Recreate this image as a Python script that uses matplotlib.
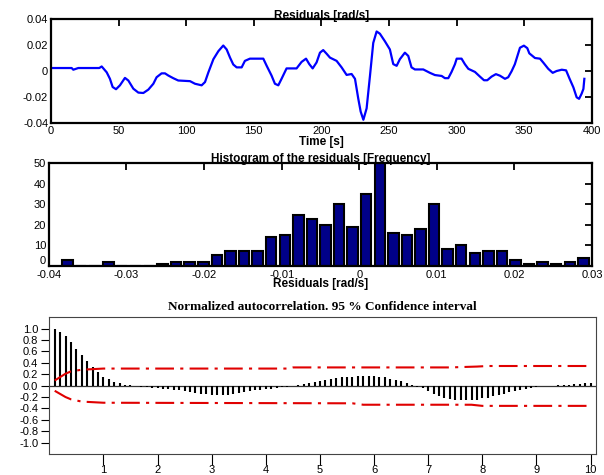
import numpy as np
import matplotlib
matplotlib.use('Agg')
import matplotlib.pyplot as plt

plt.rcParams['font.family'] = ['Liberation Sans', 'DejaVu Sans']
plt.rcParams['axes.unicode_minus'] = False

# residuals over time
time_s = [0, 15.3, 16.5, 20.2, 35.7, 37.5, 41.2, 43.6, 45.6, 48.1, 51, 54.7, 57.2, 60.9,
          64.6, 68.3, 72, 75.7, 78.1, 81.8, 84.3, 86.8, 90.4, 94.1, 102.8, 106.5, 111.4,
          113.9, 116.4, 120.1, 123.8, 127.4, 129.9, 132.4, 134.8, 137.3, 141, 143.4, 147.1,
          157, 159.5, 163.1, 165.6, 168.1, 170.5, 174.2, 181.6, 185.3, 188.6, 191, 193.5,
          196.4, 198.9, 201.3, 203.8, 206.3, 211.2, 214.9, 218.6, 222.3, 224.8, 227.2, 229,
          231, 233.4, 235.9, 238.3, 240.8, 243.2, 246.9, 250.6, 253.1, 255.6, 258, 261.7,
          264.2, 266.6, 269.1, 275.3, 280.2, 283.9, 288.9, 291.3, 293.8, 296.2, 298.7, 300,
          303.6, 306.1, 308.6, 313.5, 317.2, 320.2, 322.6, 325.8, 329, 332, 335.7, 338.1,
          340.6, 343, 346.8, 349.7, 352.2, 353.7, 357.9, 361.6, 364.1, 367.7, 371, 373.9,
          377.7, 380.9, 383.3, 386.3, 388.7, 390.5, 392.4, 393.7, 394.4]
residual = [0.0023, 0.0023, 0.001, 0.0023, 0.0023, 0.0035, -0.001, -0.006, -0.0123, -0.014,
            -0.011, -0.0053, -0.0073, -0.0136, -0.0166, -0.0169, -0.0143, -0.0098, -0.0048,
            -0.0018, -0.0018, -0.0035, -0.0055, -0.0073, -0.0078, -0.0098, -0.011, -0.0085,
            -0.001, 0.0091, 0.0153, 0.0196, 0.0166, 0.0103, 0.005, 0.0028, 0.0028, 0.0078,
            0.0095, 0.0095, 0.004, -0.0035, -0.0098, -0.011, -0.006, 0.002, 0.002, 0.007,
            0.0095, 0.0053, 0.002, 0.0066, 0.0141, 0.0161, 0.0133, 0.0103, 0.0078, 0.0028,
            -0.003, -0.0023, -0.006, -0.0211, -0.0312, -0.0375, -0.0287, -0.0035, 0.0216,
            0.0304, 0.0287, 0.0229, 0.0166, 0.0053, 0.004, 0.0091, 0.0141, 0.0116, 0.0028,
            0.0012, 0.0012, -0.0014, -0.0031, -0.0038, -0.0055, -0.0055, -0.0007, 0.0052,
            0.0095, 0.0095, 0.0052, 0.0017, -0.0007, -0.0043, -0.0071, -0.0071, -0.0043,
            -0.0024, -0.0036, -0.006, -0.0048, -0.0002, 0.0052, 0.0179, 0.0195, 0.0176,
            0.0136, 0.01, 0.0095, 0.0064, 0.0017, -0.0014, 0.0, 0.001, 0.0005, -0.0055,
            -0.0126, -0.0202, -0.0214, -0.0174, -0.0138, -0.006]

# histogram of residuals
bin_centers = [-0.0376, -0.03585, -0.0341, -0.03235, -0.0306, -0.02885, -0.0271, -0.02535,
               -0.0236, -0.02185, -0.0201, -0.01835, -0.0166, -0.01485, -0.0131, -0.01135,
               -0.0096, -0.00785, -0.0061, -0.00435, -0.0026, -0.00085, 0.0009, 0.00265,
               0.0044, 0.00615, 0.0079, 0.00965, 0.0114, 0.01315, 0.0149, 0.01665, 0.0184,
               0.02015, 0.0219, 0.02365, 0.0254, 0.02715, 0.0289]
counts = [3, 0, 0, 2, 0, 0, 0, 1, 2, 2, 2, 5, 7, 7, 7, 14, 15, 25, 23, 20, 30, 19, 35, 50,
          16, 15, 18, 30, 8, 10, 6, 7, 7, 3, 1, 2, 1, 2, 4]

# normalized autocorrelation, lags 0.1 .. 10.0
lags = np.round(np.arange(1, 101) * 0.1, 1)
acf = [1.0, 0.94, 0.87, 0.77, 0.65, 0.53, 0.43, 0.33, 0.24, 0.16,
       0.11, 0.07, 0.04, 0.02, 0.005, 0.0, -0.02, -0.03, -0.04, -0.045,
       -0.05, -0.06, -0.07, -0.085, -0.10, -0.115, -0.13, -0.14, -0.155, -0.165,
       -0.17, -0.17, -0.16, -0.15, -0.13, -0.11, -0.09, -0.08, -0.07, -0.065,
       -0.05, -0.04, -0.03, -0.015, 0.0, 0.015, 0.03, 0.045, 0.065, 0.08,
       0.10, 0.115, 0.13, 0.145, 0.15, 0.16, 0.17, 0.17, 0.17, 0.165,
       0.155, 0.145, 0.125, 0.105, 0.085, 0.045, 0.005, -0.02, -0.04, -0.10,
       -0.145, -0.185, -0.215, -0.23, -0.245, -0.255, -0.26, -0.255, -0.245, -0.225,
       -0.21, -0.185, -0.16, -0.14, -0.115, -0.09, -0.07, -0.05, -0.035, -0.02,
       -0.01, 0.0, 0.0, 0.01, 0.015, 0.02, 0.03, 0.035, 0.045, 0.045]

conf_lag = [0.1, 0.2, 0.3, 0.4, 0.6, 0.8, 1.0, 4.4, 4.5, 7.4, 7.9, 8.1, 10.0]
conf_upper = [0.09, 0.15, 0.21, 0.25, 0.28, 0.29, 0.30, 0.30, 0.32, 0.32, 0.335, 0.345, 0.345]
conf_low_lag = [0.1, 0.2, 0.3, 0.4, 0.6, 0.8, 1.0, 5.6, 5.8, 7.8, 8.0, 10.0]
conf_lower = [-0.09, -0.145, -0.2, -0.24, -0.28, -0.29, -0.30, -0.31, -0.335, -0.335, -0.355, -0.355]


def frame(ax, lw=1.6):
    for s in ax.spines.values():
        s.set_linewidth(lw)
    ax.tick_params(which='both', top=True, right=True, direction='in', length=5, width=1.3,
                   labelsize=8, pad=2)
    ax.tick_params(axis='x', bottom=False)
    ax.tick_params(axis='y', left=False)


fig = plt.figure(figsize=(6.04, 4.75), dpi=100)

# residuals
ax1 = fig.add_axes([0.0844, 0.741, 0.8956, 0.219])
ax1.plot(time_s, residual, color='#0000ff', lw=1.6)
ax1.set_xlim(0, 400)
ax1.set_ylim(-0.04, 0.04)
ax1.set_yticks([-0.04, -0.02, 0, 0.02, 0.04])
ax1.set_yticklabels(['-0.04', '-0.02', '0', '0.02', '0.04'])
ax1.set_xticks(range(0, 401, 50))
frame(ax1)
ax1.set_title('Residuals [rad/s]', fontsize=8.5, fontweight='bold', pad=0)
ax1.set_xlabel('Time [s]', fontsize=8.5, fontweight='bold', labelpad=0)

# histogram
ax2 = fig.add_axes([0.081, 0.4406, 0.899, 0.2156])
ax2.bar(bin_centers, counts, width=0.00135, color='#000088', edgecolor='black', linewidth=1.5)
ax2.set_xlim(-0.04, 0.03)
ax2.set_ylim(0, 50)
ax2.set_xticks([-0.04, -0.03, -0.02, -0.01, 0, 0.01, 0.02, 0.03])
ax2.set_xticklabels(['-0.04', '-0.03', '-0.02', '-0.01', '0', '0.01', '0.02', '0.03'])
ax2.set_yticks([0, 10, 20, 30, 40, 50])
frame(ax2)
ax2.tick_params(axis='x', pad=3)
ax2.get_yticklabels()[0].set_verticalalignment('bottom')
ax2.set_title('Histogram of the residuals [Frequency]', fontsize=8.5, fontweight='bold', pad=1)
ax2.set_xlabel('Residuals [rad/s]', fontsize=8.5, fontweight='bold', labelpad=-1)

# autocorrelation
ax3 = fig.add_axes([0.0816, 0.0442, 0.9052, 0.2878])
ax3.axhline(0, color='#333333', lw=0.9)
ax3.vlines(lags, 0, acf, color='black', lw=1.5)
ax3.plot(conf_lag, conf_upper, color='#e00000', lw=1.5, dashes=(9, 3, 1.5, 3))
ax3.plot(conf_low_lag, conf_lower, color='#e00000', lw=1.5, dashes=(9, 3, 1.5, 3))
ax3.set_xlim(0, 10.1)
ax3.set_ylim(-1.2, 1.2)
ax3.set_xticks(range(1, 11))
yt = [1.0, 0.8, 0.6, 0.4, 0.2, 0.0, -0.2, -0.4, -0.6, -0.8, -1.0]
ax3.set_yticks(yt)
ax3.set_yticklabels(['%.1f' % v for v in yt])
for s in ax3.spines.values():
    s.set_linewidth(0.8)
    s.set_color('#444444')
ax3.tick_params(direction='out', labelsize=8, width=0.8)
ax3.tick_params(axis='x', length=8, pad=0)
ax3.tick_params(axis='y', length=6, pad=2)
ax3.set_title('Normalized autocorrelation. 95 % Confidence interval',
              fontsize=9.5, fontweight='bold', family=['Liberation Serif', 'DejaVu Serif'], pad=5)

fig.savefig('out.png', dpi=100)
